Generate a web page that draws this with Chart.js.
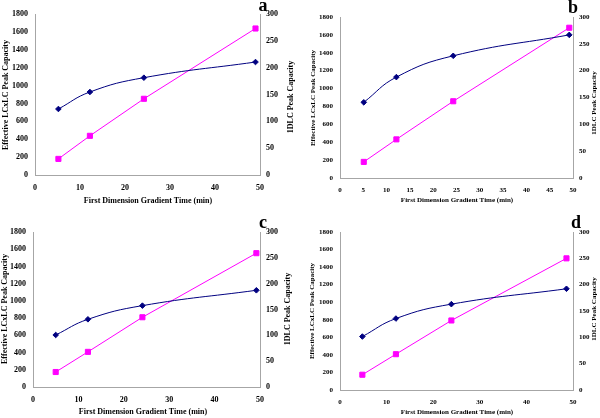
<!DOCTYPE html>
<html>
<head>
<meta charset="utf-8">
<script src="https://cdn.jsdelivr.net/npm/chart.js@4"></script>
<style>
  body { margin: 0; background: #fff; }
  #wrap { position: relative; width: 600px; height: 418px; }
  canvas { position: absolute; }
</style>
</head>
<body>
<div id="wrap">
  <canvas id="pa" width="300" height="209" style="left:0;top:0"></canvas>
  <canvas id="pb" width="300" height="209" style="left:300px;top:0"></canvas>
  <canvas id="pc" width="300" height="209" style="left:0;top:209px"></canvas>
  <canvas id="pd" width="300" height="209" style="left:300px;top:209px"></canvas>
</div>
<script>
// data
const timeA = [5.2, 12.2, 24.2, 49.0];
const lcxlcA = [738, 928, 1088, 1263];
const oneDA = [30, 73, 142, 273];

const timeB = [5.1, 12.1, 24.3, 49.2];
const lcxlcB = [846, 1128, 1366, 1600];
const oneDB = [30, 72, 143, 280];

const timeC = [5.0, 12.1, 24.1, 49.2];
const lcxlcC = [604, 786, 945, 1123];
const oneDC = [29, 68, 135, 259];

const timeD = [4.8, 12.0, 23.9, 48.6];
const lcxlcD = [609, 814, 978, 1153];
const oneDD = [29, 68, 132, 250];

const xTitle = 'First Dimension Gradient Time (min)';
const leftTitle = 'Effective LCxLC Peak Capacity';
const rightTitle = '1DLC Peak Capacity';

const serif = "'Liberation Serif', 'Times New Roman', serif";
const axisGray = '#a6a6a6';

// titles and panel letter drawn by hand (right title reads bottom to top)
const textPlugin = {
  id: 'panelText',
  afterDraw(chart, args, o) {
    const ctx = chart.ctx;
    ctx.save();
    ctx.fillStyle = '#000';
    ctx.textAlign = 'center';
    ctx.textBaseline = 'middle';
    ctx.font = 'bold ' + o.size + 'px ' + serif;
    ctx.fillText(xTitle, o.xt[0], o.xt[1]);
    [[leftTitle, o.lt], [rightTitle, o.rt]].forEach(([t, p]) => {
      ctx.save();
      ctx.translate(p[0], p[1]);
      ctx.rotate(-Math.PI / 2);
      ctx.fillText(t, 0, 0);
      ctx.restore();
    });
    ctx.textBaseline = 'alphabetic';
    ctx.font = 'bold 18px ' + serif;
    ctx.fillText(o.letter, o.lp[0], o.lp[1]);
    ctx.restore();
  }
};

function makePanel(id, time, lcxlc, oneD, box, xStep, txt) {
  const tickFont = { family: serif, size: txt.size, weight: 'bold' };
  const plain = v => String(v);
  new Chart(document.getElementById(id), {
    type: 'scatter',
    data: {
      datasets: [{
        data: time.map((t, i) => ({ x: t, y: lcxlc[i] })),
        yAxisID: 'y',
        showLine: true,
        borderColor: '#000080',
        backgroundColor: '#000080',
        borderWidth: 1,
        tension: 0.45,
        pointStyle: 'rectRot',
        pointRadius: 2.8,
        pointHoverRadius: 2.8
      }, {
        data: time.map((t, i) => ({ x: t, y: oneD[i] })),
        yAxisID: 'y1',
        showLine: true,
        borderColor: '#ff00ff',
        backgroundColor: '#ff00ff',
        borderWidth: 1,
        tension: 0,
        pointStyle: 'rect',
        pointRadius: 3.6,
        pointHoverRadius: 3.6
      }]
    },
    options: {
      responsive: false,
      animation: false,
      layout: { padding: { top: box.top, left: 0, right: 0, bottom: 0 } },
      plugins: { legend: { display: false }, tooltip: { enabled: false }, panelText: txt },
      scales: {
        x: {
          type: 'linear', min: 0, max: 50,
          afterFit: s => { s.height = 209 - box.bottom; },
          grid: { display: false, drawTicks: false },
          border: { color: axisGray },
          ticks: { stepSize: xStep, padding: 8, color: '#000', font: tickFont, maxRotation: 0, callback: plain }
        },
        y: {
          position: 'left', min: 0, max: 1800,
          afterFit: s => { s.width = box.left; },
          grid: { display: false, drawTicks: false },
          border: { color: axisGray },
          ticks: { stepSize: 200, padding: 7, color: '#000', font: tickFont, callback: plain }
        },
        y1: {
          position: 'right', min: 0, max: 300,
          afterFit: s => { s.width = 300 - box.right; },
          grid: { display: false, drawTicks: false },
          border: { color: axisGray },
          ticks: { stepSize: 50, padding: 6, color: '#000', font: tickFont, callback: plain }
        }
      }
    },
    plugins: [textPlugin]
  });
}

makePanel('pa', timeA, lcxlcA, oneDA, { left: 35, right: 260, top: 14, bottom: 175 }, 10,
  { size: 8, letter: 'a', lp: [263, 11], xt: [148, 201], lt: [6, 95], rt: [291, 97] });
makePanel('pb', timeB, lcxlcB, oneDB, { left: 40, right: 273, top: 17, bottom: 178 }, 5,
  { size: 7, letter: 'b', lp: [273, 13], xt: [157, 200], lt: [13, 98], rt: [294, 103] });
makePanel('pc', timeC, lcxlcC, oneDC, { left: 33, right: 260, top: 23, bottom: 178 }, 10,
  { size: 8, letter: 'c', lp: [263, 19], xt: [143, 203], lt: [5, 100], rt: [288, 100] });
makePanel('pd', timeD, lcxlcD, oneDD, { left: 40, right: 273, top: 23, bottom: 181 }, 10,
  { size: 7, letter: 'd', lp: [276, 19], xt: [157, 203], lt: [12, 102], rt: [294, 100] });
</script>
</body>
</html>
